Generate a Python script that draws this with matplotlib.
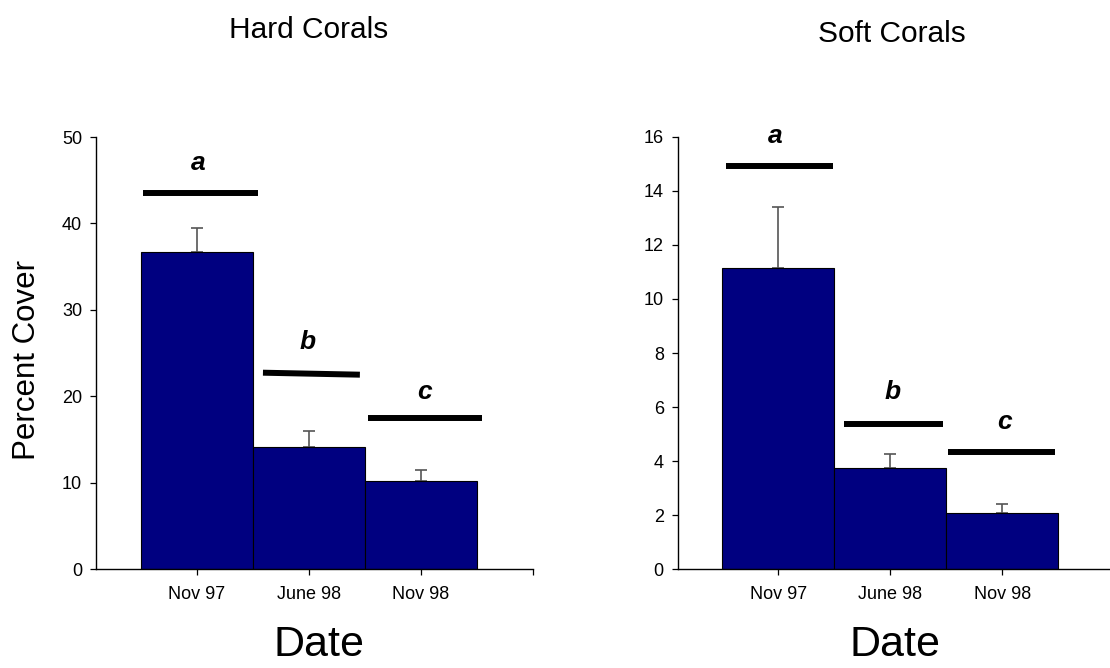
import matplotlib
matplotlib.use("Agg")
import matplotlib.pyplot as plt

plt.rcParams['font.family'] = ['Liberation Sans', 'DejaVu Sans']

categories = ['Nov 97', 'June 98', 'Nov 98']
hard_values = [36.65, 14.15, 10.2]
hard_err = [2.85, 1.82, 1.26]
soft_values = [11.15, 3.76, 2.09]
soft_err = [2.26, 0.52, 0.34]

# significance groups: (x_start, x_end, y_start, y_end), letter (x, y)
hard_letters = ['a', 'b', 'c']
hard_lines = [(0.52, 1.545, 43.55, 43.55), (1.59, 2.455, 22.72, 22.49), (2.527, 3.545, 17.48, 17.48)]
hard_letter_pos = [(1.01, 46.18), (1.99, 25.46), (3.03, 19.68)]
soft_letters = ['a', 'b', 'c']
soft_lines = [(0.53, 1.488, 14.9, 14.9), (1.587, 2.468, 5.36, 5.36), (2.513, 3.47, 4.33, 4.33)]
soft_letter_pos = [(0.973, 15.75), (2.02, 6.29), (3.02, 5.19)]

W, H = 1110, 668
fig = plt.figure(figsize=(W / 100, H / 100), dpi=100)

ax1 = fig.add_axes([96 / W, (H - 569) / H, (533 - 96) / W, (569 - 137) / H])
ax2 = fig.add_axes([677.7 / W, (H - 569.3) / H, (1114 - 677.7) / W, (569.3 - 136.7) / H])

def draw(ax, values, err, ylim, yticks, lines, letters, letter_pos):
    x = [1, 2, 3]
    ax.bar(x, values, width=1.0, color='#000080', edgecolor='black', linewidth=0.8, zorder=2)
    ax.errorbar(x, values, yerr=[[0, 0, 0], err], fmt='none', ecolor='#555555',
                elinewidth=1.2, capsize=4, capthick=1.2, zorder=1)
    for (x0, x1, y0, y1) in lines:
        ax.plot([x0, x1], [y0, y1], color='black', linewidth=4.3, solid_capstyle='butt', zorder=3)
    for letter, (lx, ly) in zip(letters, letter_pos):
        ax.text(lx, ly, letter, ha='center', va='baseline', fontsize=19,
                fontweight='bold', fontstyle='italic', color='black')
    ax.set_xlim(0.1, 4.0)
    ax.set_ylim(*ylim)
    ax.set_yticks(yticks)
    ax.set_xticks([1, 2, 3, 4])
    ax.set_xticklabels(categories + [''])
    for s in ['top', 'right']:
        ax.spines[s].set_visible(False)
    for s in ['left', 'bottom']:
        ax.spines[s].set_linewidth(1.0)
        ax.spines[s].set_color('black')
    ax.tick_params(axis='both', direction='out', length=4, width=0.9, labelsize=13,
                   colors='black', pad=6)
    ax.tick_params(axis='x', pad=8)

draw(ax1, hard_values, hard_err, (0, 50), [0, 10, 20, 30, 40, 50], hard_lines, hard_letters, hard_letter_pos)
draw(ax2, soft_values, soft_err, (0, 16), list(range(0, 17, 2)), soft_lines, soft_letters, soft_letter_pos)

fig.text(27 / W, 1 - 360 / H, 'Percent Cover', ha='center', va='center', rotation=90, fontsize=22.5)
fig.text(319 / W, 1 - 645 / H, 'Date', ha='center', va='center', fontsize=31)
fig.text(895 / W, 1 - 645 / H, 'Date', ha='center', va='center', fontsize=31)

fig.text(309 / W, 1 - 30 / H, 'Hard Corals', ha='center', va='center', fontsize=21.5)
fig.text(892 / W, 1 - 34 / H, 'Soft Corals', ha='center', va='center', fontsize=21.5)

fig.savefig('out.png', dpi=100)
